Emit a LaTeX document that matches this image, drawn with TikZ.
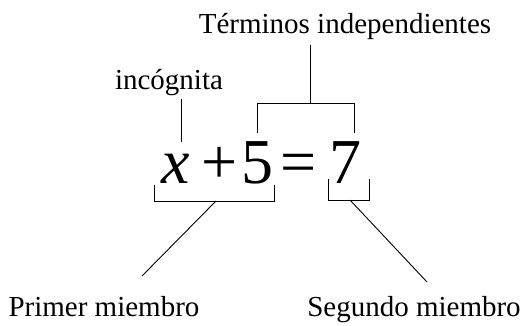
\documentclass[tikz,border=0pt]{standalone}
\usepackage{fontspec}
\usepackage{xcolor}
\setmainfont{Liberation Serif}
\usetikzlibrary{calc,positioning}
\tikzset{
    lbl/.style={font=\fontsize{29}{32}\selectfont, inner sep=0pt, anchor=base},
    eqn/.style={font=\fontsize{64}{70}\selectfont, inner sep=0pt, anchor=base},
    brk/.style={line width=0.9pt, black}
}

\begin{document}
\begin{tikzpicture}[x=1pt,y=-1pt]
    \useasboundingbox (0,0) rectangle (528,325);

    % labels
    \node[lbl] (term) at (345,33) {Términos independientes};
    \node[lbl] (inc) at (169,89) {incógnita};
    \node[lbl] (prim) at (104,316) {Primer miembro};
    \node[lbl] (seg) at (414,316) {Segundo miembro};

    % equation
    \node[eqn] (ex) at (176,183) {\itshape x};
    \node[eqn] (plus) at (220,183) {+};
    \node[eqn] (five) at (257.5,183) {5};
    \node[eqn] (eq) at (298.5,183) {=};
    \node[eqn] (seven) at (345,183) {7};

    % incognita stub
    \coordinate (incTop) at (181,99);
    \coordinate (incBot) at (181,142);
    \draw[brk] (incTop) -- (incBot);

    % terminos bracket
    \coordinate (tiTop) at (310,45);
    \coordinate (tiMid) at (310,103);
    \coordinate (tiL) at (257,103);
    \coordinate (tiR) at (354,103);
    \draw[brk] (tiTop) -- (tiMid);
    \draw[brk] ($(tiL)+(0,30)$) -- (tiL) -- (tiR) -- ($(tiR)+(0,30)$);

    % primer miembro bracket
    \coordinate (pmL) at (154,201);
    \coordinate (pmR) at (274,201);
    \coordinate (pmMid) at (216,201);
    \coordinate (pmEnd) at (142,276);
    \draw[brk] ($(pmL)+(0,-16)$) -- (pmL) -- (pmR) -- ($(pmR)+(0,-16)$);
    \draw[brk] (pmMid) -- (pmEnd);

    % segundo miembro bracket
    \coordinate (smL) at (328,200);
    \coordinate (smR) at (369,200);
    \coordinate (smMid) at (350,200);
    \coordinate (smEnd) at (427,282);
    \draw[brk] ($(smL)+(0,-21)$) -- (smL) -- (smR) -- ($(smR)+(0,-21)$);
    \draw[brk] (smMid) -- (smEnd);
\end{tikzpicture}
\end{document}
